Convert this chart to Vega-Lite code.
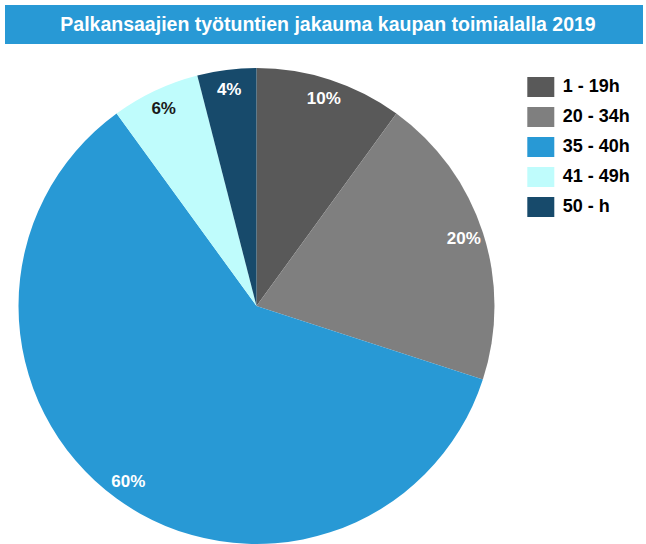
{
  "$schema": "https://vega.github.io/schema/vega-lite/v6.json",
  "padding": {"left": 5, "top": 5, "right": 3, "bottom": 0},
  "background": "white",
  "spacing": 5,
  "config": {"font": "Liberation Sans", "view": {"stroke": null}},
  "vconcat": [
    {
      "width": 638,
      "height": 39,
      "view": {"fill": "#2899d5", "stroke": null},
      "data": {"values": [{"title": "Palkansaajien työtuntien jakauma kaupan toimialalla 2019"}]},
      "mark": {"type": "text", "fontSize": 19.5, "fontWeight": "bold", "color": "white", "font": "Liberation Sans", "baseline": "middle", "align": "center", "dx": 4},
      "encoding": {"text": {"field": "title", "type": "nominal"}}
    },
    {
      "width": 503,
      "height": 514,
      "data": {"values": [
        {"category": "1 - 19h", "share": 0.10},
        {"category": "20 - 34h", "share": 0.20},
        {"category": "35 - 40h", "share": 0.60},
        {"category": "41 - 49h", "share": 0.06},
        {"category": "50 - h", "share": 0.04}
      ]},
      "encoding": {
        "theta": {"field": "share", "type": "quantitative", "stack": true},
        "order": {"field": "category", "type": "nominal", "sort": "ascending"}
      },
      "layer": [
        {
          "mark": {"type": "arc", "outerRadius": 238},
          "encoding": {
            "color": {
              "field": "category", "type": "nominal",
              "scale": {
                "domain": ["1 - 19h", "20 - 34h", "35 - 40h", "41 - 49h", "50 - h"],
                "range": ["#595959", "#7f7f7f", "#2899d5", "#bffcfc", "#174a6b"]
              },
              "legend": {
                "title": null,
                "orient": "none",
                "legendX": 525.8,
                "legendY": 72,
                "padding": 0,
                "symbolType": "M-1.35,-1L1.35,-1L1.35,1L-1.35,1Z",
                "symbolSize": 400,
                "symbolStrokeWidth": 0,
                "symbolOpacity": 1,
                "rowPadding": 10,
                "labelOffset": 12,
                "labelFontSize": 18,
                "labelFontWeight": "bold",
                "labelColor": "#000000",
                "labelFont": "Liberation Sans"
              }
            }
          }
        },
        {
          "mark": {"type": "text", "radius": 218, "fontSize": 17, "fontWeight": "bold", "font": "Liberation Sans", "baseline": "middle", "align": "center"},
          "encoding": {
            "text": {"field": "share", "type": "quantitative", "format": ".0%"},
            "color": {"condition": {"test": "datum.category === '41 - 49h'", "value": "#1a1a1a"}, "value": "white"}
          }
        }
      ]
    }
  ]
}
